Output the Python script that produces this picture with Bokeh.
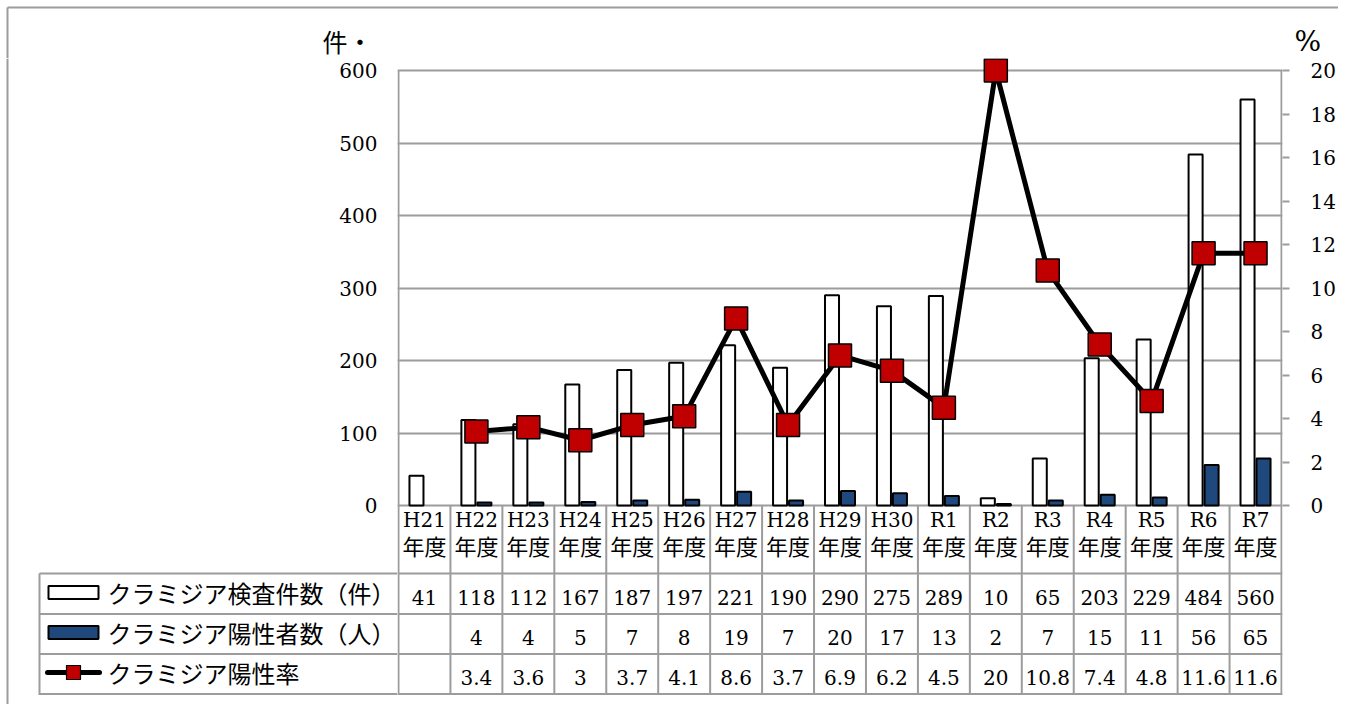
import math
from bokeh.plotting import figure
from bokeh.models import (Range1d, FactorRange, LinearAxis, FixedTicker, ColumnDataSource,
                          Grid, Span)
from bokeh.layouts import column, row
from bokeh.transform import dodge
from bokeh.core.properties import value
from bokeh.embed import file_html
from bokeh.resources import INLINE

NaN = float("nan")

# ---------------- data ----------------
categories = ["H21", "H22", "H23", "H24", "H25", "H26", "H27", "H28", "H29", "H30",
              "R1", "R2", "R3", "R4", "R5", "R6", "R7"]
year_suffix = "年度"
tests = [41, 118, 112, 167, 187, 197, 221, 190, 290, 275, 289, 10, 65, 203, 229, 484, 560]
positives = [NaN, 4, 4, 5, 7, 8, 19, 7, 20, 17, 13, 2, 7, 15, 11, 56, 65]
rate = [NaN, 3.4, 3.6, 3.0, 3.7, 4.1, 8.6, 3.7, 6.9, 6.2, 4.5, 20.0, 10.8, 7.4, 4.8, 11.6, 11.6]

name_tests = "クラミジア検査件数（件）"
name_pos = "クラミジア陽性者数（人）"
name_rate = "クラミジア陽性率"
left_unit = "件・"
right_unit = "%"
left_ticks = [0, 100, 200, 300, 400, 500, 600]
right_ticks = [0, 2, 4, 6, 8, 10, 12, 14, 16, 18, 20]

# ---------------- styles / layout (screen px) ----------------
NUM_FONT = "DejaVu Serif"
JP_FONT = "Noto Sans CJK JP"
GRID = "#9c9c9c"
BLUE = "#1F497D"
RED = "#C00000"

TOTAL_W = 1338
HEAD_H = 58                  # header 0..58
STRIP_W = 20                 # outer border strip 0..20
LEFT_W = 397 - STRIP_W       # 20..397
CHART_X = 397
CHART_W = TOTAL_W - CHART_X  # 397..1338
PX = 52.0                    # px per category
PAD = 1.0 / PX               # 1px padding each side of the category range
FRAME_R = 1283
FRAME_T, ZERO_Y = 70, 505    # top of value scale (600 / 20 %) and zero line
TABLE_B = 693.5
CANVAS_B = 704
FRAME_B = 696
AXIS_B = 520
PX_L = (ZERO_Y - FRAME_T) / 600.0
PX_R = (ZERO_Y - FRAME_T) / 20.0

n = len(categories)

def fmt(v):
    if v is None or (isinstance(v, float) and math.isnan(v)):
        return ""
    return f"{v:g}"

def bare(fig):
    fig.outline_line_color = None
    fig.grid.visible = False
    fig.background_fill_color = "white"
    fig.border_fill_color = "white"

src = ColumnDataSource(dict(cat=categories, tests=tests, pos=positives, rate=rate,
                            tests_t=[fmt(v) for v in tests], pos_t=[fmt(v) for v in positives],
                            rate_t=[fmt(v) for v in rate], suffix=[year_suffix] * n,
                            edge_top=[FRAME_T] + [ZERO_Y] * (n - 1)))
last_src = ColumnDataSource(dict(cat=[categories[-1]]))

common = dict(output_backend="svg", toolbar_location=None, frame_align=False)

# ---------------- header (unit labels + outer border) ----------------
h = figure(width=TOTAL_W, height=HEAD_H, x_range=Range1d(0, TOTAL_W), y_range=Range1d(HEAD_H, 0),
           x_axis_location=None, y_axis_location=None, min_border=0, **common)
bare(h)
h.segment(x0=[7], x1=[TOTAL_W], y0=[7], y1=[7], line_color=GRID, line_width=2)
h.segment(x0=[7], x1=[7], y0=[7], y1=[HEAD_H], line_color=GRID, line_width=2)
h.text(x=[322], y=[40], text=[left_unit], text_font=value(JP_FONT), text_font_size="25px",
       text_align="left", text_baseline="middle", text_color="black")
h.text(x=[1294], y=[41], text=[right_unit], text_font=value(NUM_FONT), text_font_size="28px",
       text_align="left", text_baseline="middle", text_color="black")

# ---------------- outer border strip ----------------
s = figure(width=STRIP_W, height=CANVAS_B - HEAD_H, x_range=Range1d(0, STRIP_W),
           y_range=Range1d(CANVAS_B, HEAD_H), x_axis_location=None, y_axis_location=None,
           min_border=0, **common)
bare(s)
s.segment(x0=[7], x1=[7], y0=[HEAD_H], y1=[CANVAS_B], line_color=GRID, line_width=2)

# ---------------- left value axis ----------------
AX_H = AXIS_B - HEAD_H
a = figure(width=LEFT_W, height=AX_H, x_range=Range1d(0, 1), y_range=Range1d(0, 600),
           x_axis_location=None, min_border_left=LEFT_W - 2, min_border_right=0,
           min_border_top=FRAME_T - HEAD_H, min_border_bottom=AXIS_B - ZERO_Y, **common)
bare(a)
ay = a.yaxis[0]
ay.ticker = FixedTicker(ticks=left_ticks)
ay.axis_line_color = None
ay.major_tick_line_color = None
ay.minor_tick_line_color = None
ay.major_tick_out = 0
ay.major_tick_in = 0
ay.major_label_standoff = 18
ay.major_label_text_font = NUM_FONT
ay.major_label_text_font_size = "20px"
ay.major_label_text_color = "black"
a.scatter(x=[0.5], y=[300], size=1, alpha=0)

# ---------------- legend column of the data table ----------------
lg = figure(width=LEFT_W, height=CANVAS_B - AXIS_B, x_range=Range1d(STRIP_W, CHART_X),
            y_range=Range1d(CANVAS_B, AXIS_B), x_axis_location=None, y_axis_location=None,
            min_border=0, **common)
bare(lg)
row_y = [573, 613.5, 653.5, TABLE_B]
lg.segment(x0=[39] * 4, x1=[400] * 4, y0=row_y, y1=row_y, line_color=GRID, line_width=2)
lg.segment(x0=[39], x1=[39], y0=[573], y1=[TABLE_B + 1], line_color=GRID, line_width=2)
lg.rect(x=[73], y=[592], width=[50], height=[13], fill_color="white", line_color="black", line_width=2)
lg.rect(x=[73], y=[632], width=[50], height=[13], fill_color=BLUE, line_color="black", line_width=2)
lg.segment(x0=[47], x1=[99], y0=[672], y1=[672], line_color="black", line_width=5, line_cap="round")
lg.scatter(x=[73], y=[672], marker="square", size=14, fill_color=RED, line_color="black", line_width=1.2)
lg.text(x=[107] * 3, y=[592, 632, 672], text=[name_tests, name_pos, name_rate],
        text_font=value(JP_FONT), text_font_size="24px", text_align="left",
        text_baseline="middle", text_color="black")

# ---------------- chart + data cells ----------------
p = figure(width=CHART_W, height=CANVAS_B - HEAD_H,
           x_range=FactorRange(*categories, range_padding=PAD, range_padding_units="absolute",
                               factor_padding=0),
           y_range=Range1d(-(FRAME_B - ZERO_Y) / PX_L, 600 + (FRAME_T - HEAD_H) / PX_L),
           x_axis_location=None, y_axis_location=None,
           min_border_left=0, min_border_right=TOTAL_W - FRAME_R,
           min_border_top=0, min_border_bottom=CANVAS_B - FRAME_B, **common)
for g in p.grid:
    g.visible = False
p.outline_line_color = None
p.background_fill_color = "white"
p.border_fill_color = "white"
p.extra_y_ranges = {"pct": Range1d(-(FRAME_B - ZERO_Y) / PX_R, 20 + (FRAME_T - HEAD_H) / PX_R),
                    "tbl": Range1d(FRAME_B, HEAD_H)}
p.add_layout(Grid(dimension=1, ticker=FixedTicker(ticks=left_ticks),
                  grid_line_color=GRID, grid_line_width=2))

ax2 = LinearAxis(y_range_name="pct", ticker=FixedTicker(ticks=right_ticks))
ax2.major_tick_out = 7
ax2.major_tick_in = 0
ax2.major_label_standoff = 21
ax2.axis_line_color = None
ax2.major_tick_line_color = GRID
ax2.major_tick_line_width = 2
ax2.minor_tick_line_color = None
ax2.major_label_text_font = NUM_FONT
ax2.major_label_text_font_size = "20px"
ax2.major_label_text_color = "black"
p.add_layout(ax2, "right")

# table / plot-area frame lines
for yy in row_y:
    p.add_layout(Span(location=yy, dimension="width", y_range_name="tbl",
                      line_color=GRID, line_width=2))
p.segment(x0=dodge("cat", -0.5, range=p.x_range), x1=dodge("cat", -0.5, range=p.x_range),
          y0="edge_top", y1=TABLE_B + 1, y_range_name="tbl", source=src,
          line_color=GRID, line_width=2)
p.segment(x0=dodge("cat", 0.5, range=p.x_range), x1=dodge("cat", 0.5, range=p.x_range),
          y0=FRAME_T, y1=TABLE_B + 1, y_range_name="tbl", source=last_src,
          line_color=GRID, line_width=2)

p.vbar(x=dodge("cat", -0.154, range=p.x_range), top="tests", bottom=0, width=0.27, source=src,
       fill_color="white", line_color="black", line_width=2)
p.vbar(x=dodge("cat", 0.154, range=p.x_range), top="pos", bottom=0, width=0.27, source=src,
       fill_color=BLUE, line_color="black", line_width=2)
p.line(x="cat", y="rate", y_range_name="pct", source=src,
       line_color="black", line_width=5, line_join="round")
p.scatter(x="cat", y="rate", y_range_name="pct", source=src, marker="square", size=23,
          fill_color=RED, line_color="black", line_width=1.5)

p.text(x="cat", y=519, text="cat", y_range_name="tbl", source=src,
       text_font=value(NUM_FONT), text_font_size="20px",
       text_align="center", text_baseline="middle", text_color="black")
p.text(x="cat", y=544, text="suffix", y_range_name="tbl", source=src,
       text_font=value(JP_FONT), text_font_size="22px",
       text_align="center", text_baseline="middle", text_color="black")
for yy, col in ((597, "tests_t"), (637, "pos_t"), (677, "rate_t")):
    p.text(x="cat", y=yy, text=col, y_range_name="tbl", source=src,
           text_font=value(NUM_FONT), text_font_size="20px",
           text_align="center", text_baseline="middle", text_color="black")

layout = column(h, row(s, column(a, lg, spacing=0), p, spacing=0), spacing=0)

open("out.html", "w").write(file_html(layout, INLINE))
